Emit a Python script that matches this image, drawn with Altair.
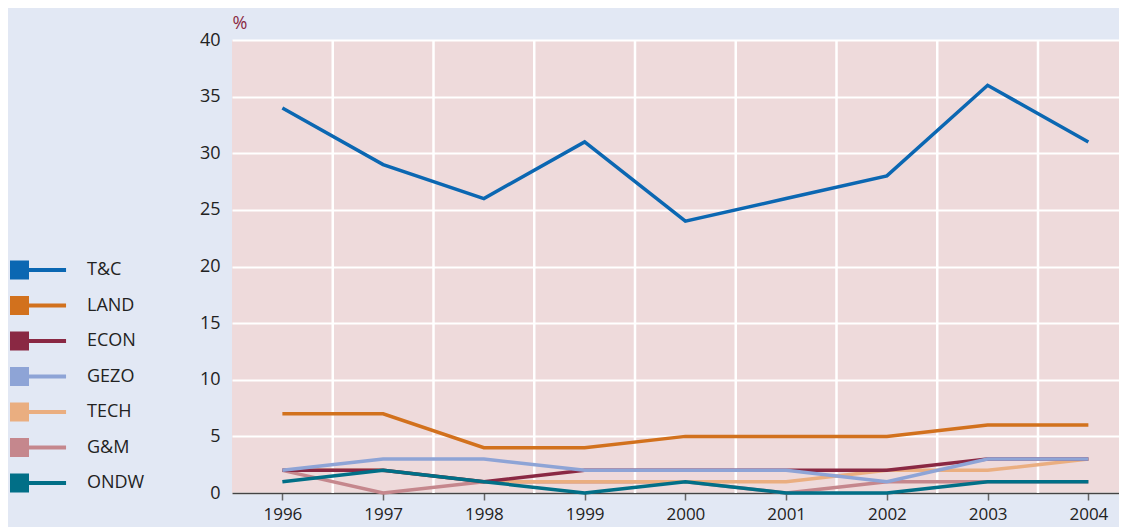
import altair as alt
import pandas as pd

years = [1996, 1997, 1998, 1999, 2000, 2001, 2002, 2003, 2004]
series = ["T&C", "LAND", "ECON", "GEZO", "TECH", "G&M", "ONDW"]
colors = ["#0b67b2", "#d2711d", "#8a2843", "#8ea4d6", "#eaae80", "#c5878d", "#016f87"]

tc = [34, 29, 26, 31, 24, 26, 28, 36, 31]
land = [7, 7, 4, 4, 5, 5, 5, 6, 6]
econ = [2, 2, 1, 2, 2, 2, 2, 3, 3]
gezo = [2, 3, 3, 2, 2, 2, 1, 3, 3]
tech = [2, 2, 1, 1, 1, 1, 2, 2, 3]
gm = [2, 0, 1, 1, 1, 0, 1, 1, 1]
ondw = [1, 2, 1, 0, 1, 0, 0, 1, 1]

y_ticks = [0, 5, 10, 15, 20, 25, 30, 35, 40]
grid_x = [1996.5, 1997.5, 1998.5, 1999.5, 2000.5, 2001.5, 2002.5, 2003.5]

# draw order (bottom first)
draw = [("G&M", gm), ("TECH", tech), ("ECON", econ), ("GEZO", gezo),
        ("ONDW", ondw), ("LAND", land), ("T&C", tc)]
rows = []
for name, vals in draw:
    for yr, v in zip(years, vals):
        rows.append({"year": yr, "value": v, "series": name})
df = pd.DataFrame(rows)
grid_df = pd.DataFrame({"year": grid_x})

FONT = "Open Sans"
xscale = alt.Scale(domain=[1995.5, 2004.304], nice=False, zero=False)
yscale = alt.Scale(domain=[0, 40], nice=False)
cscale = alt.Scale(domain=series, range=colors)

SYMBOL = "M-1,-1H1V1H-1Z M1,-0.2H4.9V0.2H1Z"

xaxis = alt.Axis(values=years, format="d", title=None, grid=False,
                 tickSize=7, tickColor="#666", tickWidth=1.5,
                 domainColor="#444", domainWidth=1.5,
                 labelFontSize=17, labelColor="#222", labelFont=FONT,
                 labelPadding=6)
yaxis = alt.Axis(values=y_ticks, title="%", titleAngle=0, titleX=0, titleY=-12,
                 titleAlign="left", titleBaseline="alphabetic",
                 titleColor="#8a2843", titleFontSize=18, titleFontWeight="normal",
                 titleFont=FONT,
                 grid=True, gridColor="white", gridWidth=2,
                 domain=False, ticks=False, labelPadding=12,
                 labelFontSize=18, labelColor="#222", labelFont=FONT)

rules = alt.Chart(grid_df).mark_rule(color="white", strokeWidth=2.5).encode(
    x=alt.X("year:Q", scale=xscale, axis=xaxis)
)

lines = alt.Chart(df).mark_line(strokeWidth=3.5).encode(
    x=alt.X("year:Q", scale=xscale, axis=xaxis),
    y=alt.Y("value:Q", scale=yscale, axis=yaxis),
    color=alt.Color("series:N", scale=cscale),
    detail="series:N",
)

legend_pts = alt.Chart(df).transform_filter(alt.datum.value < -100).mark_point(
    filled=True, shape=SYMBOL, size=361, opacity=1, strokeWidth=0
).encode(
    x=alt.X("year:Q", scale=xscale, axis=xaxis),
    y=alt.Y("value:Q", scale=yscale, axis=yaxis),
    color=alt.Color("series:N", scale=cscale,
                    legend=alt.Legend(title=None, orient="none", legendX=-222, legendY=220.5,
                                      padding=0, labelFontSize=18, labelFont=FONT,
                                      labelColor="#222", labelOffset=58, rowPadding=16.5,
                                      symbolType=SYMBOL, symbolSize=361,
                                      symbolStrokeWidth=0, symbolOpacity=1)),
)

chart = alt.layer(rules, lines, legend_pts).properties(
    width=887, height=453,
    autosize=alt.AutoSizeParams(type="none"),
    padding={"left": 224, "top": 32, "right": 0, "bottom": 34},
    background="#e2e8f4",
).configure_view(fill="#eedadb", stroke=None)

chart.save("out.html", embed_options={"renderer": "svg", "actions": False})
